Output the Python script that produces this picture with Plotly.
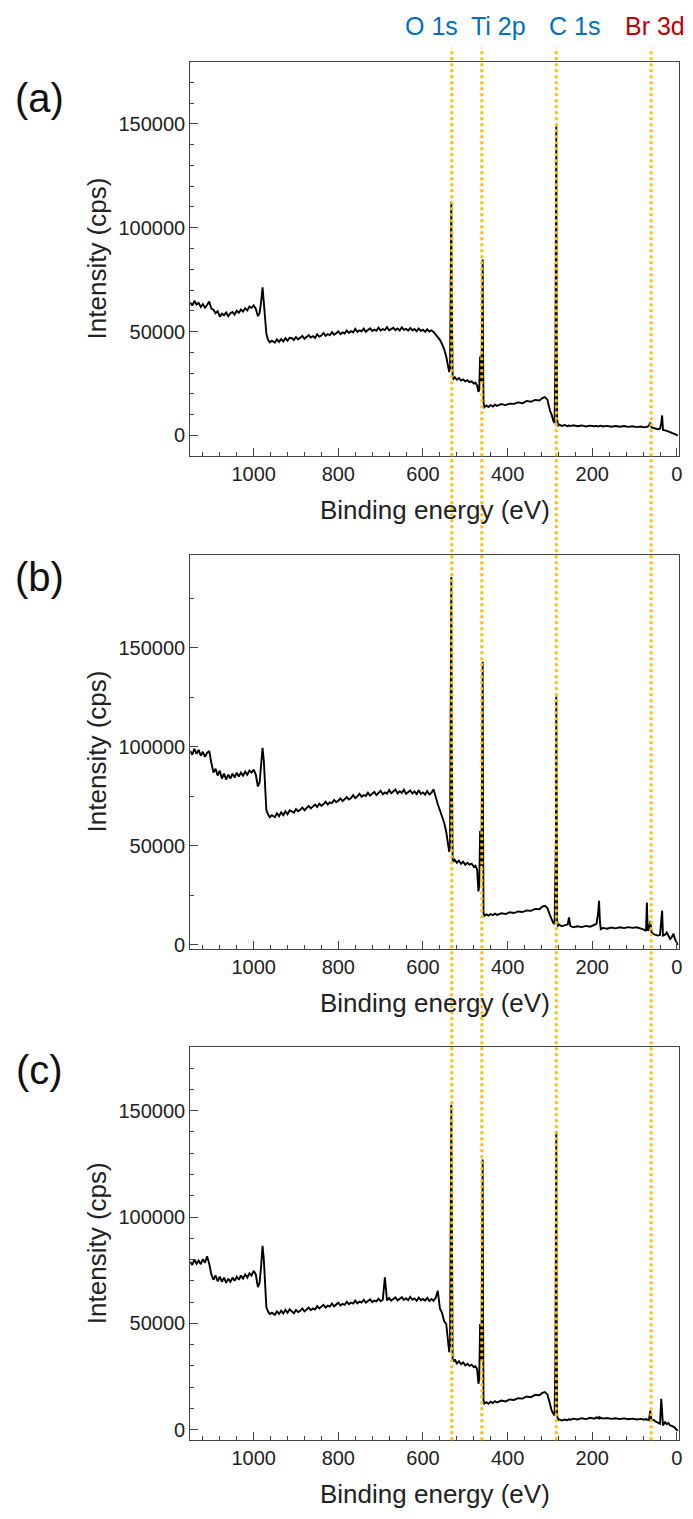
import plotly.graph_objects as go

W, H = 693, 1519

# ---------------- data ----------------
energy = [
    1150, 1145, 1140, 1135, 1130, 1125, 1120, 1115, 1110, 1105,
    1100, 1095, 1090, 1085, 1080, 1075, 1070, 1065, 1060, 1055,
    1050, 1045, 1040, 1035, 1030, 1025, 1020, 1015, 1010, 1005,
    1000, 995, 990, 986, 982, 979, 976, 973, 970, 966,
    962, 957, 950, 945, 940, 935, 930, 925, 920, 915,
    910, 905, 900, 895, 890, 885, 880, 875, 870, 865,
    860, 855, 850, 845, 840, 835, 830, 825, 820, 815,
    810, 805, 800, 795, 790, 785, 780, 775, 770, 765,
    760, 755, 750, 745, 740, 735, 730, 725, 720, 715,
    710, 705, 700, 695, 690, 685, 680, 675, 670, 665,
    660, 655, 650, 645, 640, 635, 630, 625, 620, 615,
    610, 605, 600, 595, 590, 585, 580, 575, 570, 565,
    560, 555, 550, 545, 541, 538, 536, 534, 533, 532,
    531, 530, 528, 525, 520, 515, 510, 505, 500, 495,
    490, 485, 480, 476, 472, 469, 467, 465, 464, 462,
    460, 459, 458, 457, 455, 450, 445, 440, 435, 430,
    425, 415, 405, 395, 385, 375, 365, 355, 345, 335,
    325, 318, 312, 306, 300, 296, 292, 289, 287, 286,
    285, 284, 283, 281, 278, 272, 265, 258, 255, 252,
    245, 235, 225, 215, 205, 195, 190, 186, 184, 182,
    180, 175, 165, 155, 145, 135, 125, 115, 105, 95,
    85, 78, 73, 71, 69, 66, 63, 60, 55, 50,
    45, 40, 37, 35, 33, 28, 24, 20, 16, 12,
    8, 5, 2, -2,
]

intensity_a = [
    64000, 62500, 64800, 63000, 63800, 61800, 63200, 61500, 62800, 64500,
    61000, 60500, 58800, 59800, 57200, 58600, 57800, 59200, 57400, 58800,
    59400, 58200, 60000, 59000, 60600, 59600, 61200, 60200, 62000, 61400,
    62600, 61000, 57400, 59000, 65000, 71300, 64000, 54000, 49000, 46000,
    44800, 45600, 44600, 46200, 45000, 46400, 45200, 46800, 45600, 47000,
    46800, 45900, 47400, 46200, 46900, 47900, 46500, 47600, 48300, 47100,
    47800, 46900, 48700, 47600, 48100, 49300, 47900, 48800, 48200, 49700,
    48500, 49200, 50100, 48800, 49600, 49100, 50500, 49300, 50200, 49600,
    51300, 49800, 50600, 50100, 51400, 49900, 50800, 51600, 50300, 50900,
    50400, 51900, 50500, 51200, 50700, 52100, 50600, 51300, 51800, 50700,
    51500, 50500, 52000, 50800, 51300, 50400, 51700, 50600, 51200, 50100,
    51500, 50300, 50900, 49900, 51100, 50000, 50600, 49800, 48700, 47600,
    46000, 44000, 41600, 38000, 33000, 30500, 32000, 95000, 112500, 70000,
    30000, 28000, 27200, 28000, 26800, 27600, 26400, 27000, 26000, 26600,
    25600, 26000, 25000, 25400, 24000, 21000, 22000, 38000, 30000, 26000,
    60000, 84700, 40000, 16000, 13600, 14400, 13700, 14600, 13900, 14800,
    14200, 15100, 14600, 15300, 15200, 15900, 15500, 16600, 16200, 17100,
    16800, 18000, 18400, 17200, 12000, 10000, 7000, 6000, 40000, 104000,
    148700, 50000, 8000, 4800, 5200, 4600, 5000, 4400, 4800, 4500,
    4900, 4400, 4800, 4300, 4700, 4400, 4600, 4300, 4500, 4400,
    4700, 4300, 4600, 4200, 4500, 4200, 4500, 4100, 4400, 4000,
    4300, 3900, 4100, 4000, 4200, 4800, 6200, 3800, 3600, 3300,
    3000, 3200, 6000, 9600, 2600, 2400, 2200, 2000, 1600, 1200,
    800, 500, 200, 0,
]

intensity_b = [
    98000, 96000, 99000, 96500, 98500, 95500, 97500, 95000, 97000, 98000,
    92000, 87000, 89000, 85500, 88000, 84000, 86500, 83500, 86000, 84000,
    86500, 84500, 87000, 85000, 87000, 85500, 87500, 86000, 88000, 87000,
    88500, 86000, 80000, 82000, 92000, 99500, 93000, 78000, 68000, 66000,
    64500, 65500, 64500, 66500, 65000, 67000, 65500, 67500, 66000, 68000,
    67400, 66800, 68600, 67500, 68200, 69400, 68000, 69200, 70200, 68900,
    69800, 70900, 69700, 71300, 70300, 71000, 72300, 70900, 72000, 71600,
    73200, 72100, 72800, 74000, 72600, 73700, 74600, 73400, 74200, 75600,
    74100, 75000, 76300, 74800, 75700, 75200, 76900, 75400, 76200, 77300,
    75700, 76600, 77800, 76100, 77000, 76400, 78200, 76600, 77400, 78500,
    76500, 77600, 76800, 78400, 76300, 77200, 78000, 76400, 77500, 76200,
    78100, 76300, 77000, 75900, 77700, 76000, 76800, 78600, 74200, 71000,
    68000, 65000, 61700, 57000, 52000, 47000, 50000, 170000, 185800, 105000,
    45000, 43300, 42000, 43000, 41500, 42500, 41000, 42000, 40500, 41500,
    40500, 41000, 39500, 40000, 38000, 27000, 30000, 57500, 45000, 40000,
    100000, 143000, 60000, 16000, 14700, 15400, 14800, 15600, 15000, 15800,
    15200, 16000, 15600, 16500, 16100, 16900, 16600, 17400, 17200, 18200,
    18000, 19400, 19800, 18600, 15000, 13100, 11000, 10600, 34000, 51600,
    125400, 45000, 12000, 9700, 10200, 9400, 9800, 10400, 13900, 9600,
    8900, 9400, 9000, 9600, 9200, 10200, 10600, 16400, 22300, 12000,
    8000, 8600, 8200, 8800, 8400, 8900, 8500, 9000, 8600, 8900,
    8400, 7800, 7000, 21400, 7200, 8000, 12200, 6500, 5400, 5000,
    4700, 5000, 11000, 17300, 4700, 5200, 6300, 4200, 3000, 4000,
    5700, 3200, 1500, 0,
]

intensity_c = [
    79000, 77500, 80000, 78000, 79500, 77800, 80200, 78500, 81500, 78000,
    73000, 70500, 72500, 69800, 72000, 69500, 71500, 69000, 71000, 69500,
    71500, 70000, 72000, 70500, 72500, 71000, 73000, 71500, 73500, 72500,
    74700, 73000, 67000, 69000, 78000, 86400, 80000, 65000, 57500, 55500,
    54400, 55000, 54000, 55600, 54400, 56000, 54600, 56400, 55000, 56600,
    55400, 54700, 56300, 55300, 55900, 57000, 55600, 56600, 57400, 56200,
    57000, 56500, 58100, 57000, 57700, 58700, 57400, 58300, 57900, 59300,
    58000, 58800, 59700, 58400, 59200, 58700, 60100, 59000, 59800, 59300,
    60700, 59400, 60200, 59800, 61100, 59700, 60500, 61300, 60000, 60700,
    60300, 61600, 60400, 61100, 71600, 60800, 61900, 60700, 61400, 62200,
    60800, 61600, 62300, 61000, 61800, 60900, 62400, 61100, 61700, 60600,
    62100, 60900, 61500, 60700, 62000, 60500, 61400, 60600, 62000, 65300,
    57000, 55000, 51000, 49700, 42000, 36400, 40000, 140300, 152800, 112000,
    36000, 33300, 32000, 33000, 31200, 32200, 30800, 31600, 30200, 31000,
    30000, 30600, 29400, 29800, 28400, 21600, 24000, 49700, 38000, 32000,
    95000, 127000, 55000, 14000, 12200, 12900, 12200, 13200, 12500, 13400,
    12800, 13700, 13300, 14200, 14000, 14800, 14600, 15600, 15300, 16400,
    16200, 17300, 17700, 16600, 12200, 9000, 7500, 6700, 35600, 73900,
    140300, 45000, 7000, 4400, 4900, 4300, 4800, 4500, 5000, 4600,
    5200, 4800, 5400, 5000, 5600, 5200, 5800, 5400, 5900, 5300,
    5700, 5200, 5500, 5100, 5400, 5000, 5300, 4900, 5200, 4800,
    5100, 4700, 5000, 4600, 4800, 4500, 9000, 4400, 4600, 3800,
    3200, 2800, 14500, 6000, 2000, 3600, 2600, 3200, 2000, 1800,
    1400, 1000, 200, -500,
]

spectra = [intensity_a, intensity_b, intensity_c]
panel_labels = ["(a)", "(b)", "(c)"]

peak_names = ["O 1s", "Ti 2p", "C 1s", "Br 3d"]
peak_energies = [532, 461, 285, 61]
peak_colors = ["#0070C0", "#0070C0", "#0070C0", "#C00000"]

x_tickvals = [1000, 800, 600, 400, 200, 0]
y_tickvals = [0, 50000, 100000, 150000]
y_ranges = [[-10000, 180000], [-2000, 197000], [-5000, 180000]]
y_minor_steps = [10000, 25000, 10000]

# ---------------- layout helpers (pixel -> paper) ----------------
def px_x(p):
    return p / W

def px_y(p):
    return 1 - p / H

x_domain = [px_x(191), px_x(682)]
panel_px = [(61.8, 458.3), (557.3, 953.3), (1051.7, 1447.0)]

FONT = "Arial, Liberation Sans, sans-serif"
AXCOL = "#444444"

fig = go.Figure()
layout = dict(
    width=W, height=H,
    margin=dict(l=0, r=0, t=0, b=0),
    paper_bgcolor="white", plot_bgcolor="white",
    showlegend=False,
    font=dict(family=FONT, color="#222222"),
)

annotations = []
for i, ys in enumerate(spectra):
    n = "" if i == 0 else str(i + 1)
    fig.add_trace(go.Scatter(
        x=energy, y=ys, mode="lines",
        line=dict(color="black", width=1.9),
        xaxis="x" + n, yaxis="y" + n, hoverinfo="skip",
    ))
    top, bot = panel_px[i]
    layout["xaxis" + n] = dict(
        domain=x_domain, range=[1150, -5], anchor="y" + n,
        tickvals=x_tickvals, ticks="inside", ticklen=8, tickwidth=1,
        tickcolor=AXCOL, showline=True, linecolor=AXCOL, linewidth=1,
        mirror=True, showgrid=False, zeroline=False,
        tickfont=dict(size=20, color="#222222", family=FONT),
        minor=dict(ticks="inside", ticklen=4, dtick=40, tick0=0,
                   tickcolor=AXCOL, showgrid=False),
    )
    layout["yaxis" + n] = dict(
        domain=[px_y(bot), px_y(top)], range=y_ranges[i], anchor="x" + n,
        tickvals=y_tickvals, tickformat="d", ticks="inside", ticklen=8,
        tickwidth=1, tickcolor=AXCOL, showline=True, linecolor=AXCOL,
        linewidth=1, mirror=True, showgrid=False, zeroline=False,
        tickfont=dict(size=20, color="#222222", family=FONT),
        minor=dict(ticks="inside", ticklen=4, dtick=y_minor_steps[i],
                   tick0=0, tickcolor=AXCOL, showgrid=False),
    )
    annotations.append(dict(
        text="Binding energy (eV)", xref="paper", yref="paper",
        x=px_x(436.5), y=px_y(bot + 54), xanchor="center", yanchor="middle",
        showarrow=False, font=dict(size=26, color="#222222", family=FONT)))
    annotations.append(dict(
        text="Intensity (cps)", xref="paper", yref="paper",
        x=px_x(97), y=px_y((top + bot) / 2), xanchor="center",
        yanchor="middle", textangle=-90, showarrow=False,
        font=dict(size=26, color="#222222", family=FONT)))

label_y = [98, 580, 1075]
for lab, yy in zip(panel_labels, label_y):
    annotations.append(dict(
        text=lab, xref="paper", yref="paper", x=px_x(40), y=px_y(yy),
        xanchor="center", yanchor="middle", showarrow=False,
        font=dict(size=40, color="#111111", family=FONT)))

label_x = [433.5, 501, 576.5, 657.5]
for name, col, xx in zip(peak_names, peak_colors, label_x):
    annotations.append(dict(
        text=name, xref="paper", yref="paper", x=px_x(xx), y=px_y(26),
        xanchor="center", yanchor="middle", showarrow=False,
        font=dict(size=25, color=col, family=FONT)))

shapes = []
for e in peak_energies:
    shapes.append(dict(
        type="line", xref="x", yref="paper", x0=e, x1=e,
        y0=px_y(1447), y1=px_y(48),
        line=dict(color="#FFC000", width=3, dash="dot"), layer="above"))

layout["annotations"] = annotations
layout["shapes"] = shapes
fig.update_layout(**layout)

assert len(energy) == len(intensity_a) == len(intensity_b) == len(intensity_c)
fig.write_html(
    "out.html",
    config={"displayModeBar": False},
    post_script="document.body.style.margin='0';document.body.style.padding='0';"
                "document.documentElement.style.overflow='hidden';",
)
